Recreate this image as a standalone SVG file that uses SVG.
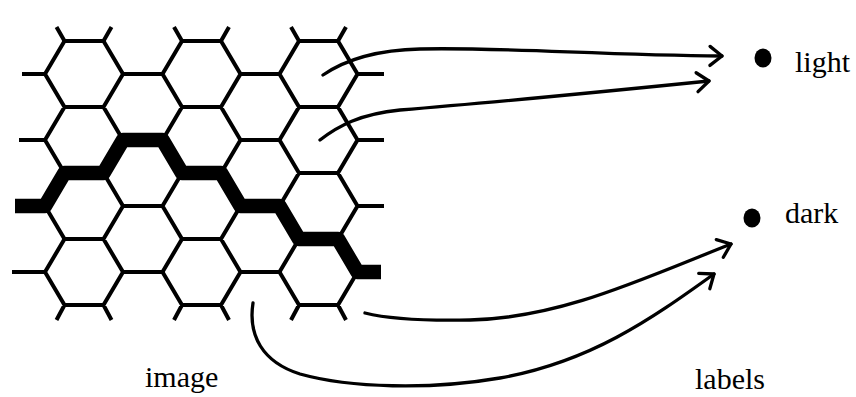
<svg xmlns="http://www.w3.org/2000/svg" width="856" height="397" viewBox="0 0 856 397">
  <style>
    .lat { fill: none; stroke: #000; stroke-width: 4; stroke-linejoin: round; }
    .thick { fill: none; stroke: #000; stroke-width: 14.5; stroke-linejoin: round; stroke-linecap: butt; }
    .conn { fill: none; stroke: #000; stroke-width: 3.3; stroke-linecap: round; }
    .lbl { font-family: "Liberation Serif", "Times New Roman", serif; font-size: 30px; fill: #000; }
  </style>
  <defs>
    <marker id="arrow" viewBox="-15 -12 18 24" markerWidth="18" markerHeight="24" refX="0" refY="0" orient="auto" markerUnits="userSpaceOnUse">
      <path d="M-12,-9.5 L0,0 L-12,9.5" fill="none" stroke="#000" stroke-width="3.3" stroke-linecap="round" stroke-linejoin="round"/>
    </marker>
  </defs>
  <rect width="856" height="397" fill="#fff"/>

  <g id="image">
    <path class="lat" d="
      M64.5,41 L103.5,41 L123,74 L103.5,107 L64.5,107 L45,74Z
      M64.5,107 L103.5,107 L123,140 L103.5,173 L64.5,173 L45,140Z
      M64.5,173 L103.5,173 L123,206 L103.5,239 L64.5,239 L45,206Z
      M64.5,239 L103.5,239 L123,272 L103.5,305 L64.5,305 L45,272Z
      M182,41 L221,41 L240.5,74 L221,107 L182,107 L162.5,74Z
      M182,107 L221,107 L240.5,140 L221,173 L182,173 L162.5,140Z
      M182,173 L221,173 L240.5,206 L221,239 L182,239 L162.5,206Z
      M182,239 L221,239 L240.5,272 L221,305 L182,305 L162.5,272Z
      M299,41 L338,41 L357.5,74 L338,107 L299,107 L279.5,74Z
      M299,107 L338,107 L357.5,140 L338,173 L299,173 L279.5,140Z
      M299,173 L338,173 L357.5,206 L338,239 L299,239 L279.5,206Z
      M299,239 L338,239 L357.5,272 L338,305 L299,305 L279.5,272Z
      M123,74 H162.5 M123,140 H162.5 M123,206 H162.5 M123,272 H162.5
      M240.5,74 H279.5 M240.5,140 H279.5 M240.5,206 H279.5 M240.5,272 H279.5
      M64.5,41 l-8,-14 M103.5,41 l8,-14 M182,41 l-8,-14 M221,41 l8,-14 M299,41 l-8,-14 M338,41 l8,-14
      M64.5,305 l-8,15 M103.5,305 l8,15 M182,305 l-8,15 M221,305 l8,15 M299,305 l-8,15 M338,305 l8,15
      M45,74 H22 M45,140 H19 M45,272 H12
      M357.5,74 H384 M357.5,140 H384 M357.5,206 H384"/>
    <path class="thick" d="M15,206 H45 L64.5,173 H103.5 L123,140 H162.5 L182,173 H221 L240.5,206 H279.5 L299,239 H338 L357.5,272 H381"/>
  </g>

  <g id="connectors">
    <path class="conn" marker-end="url(#arrow)" d="M323,75 C345,60 375,50 420,49 C500,47 600,55 722,56"/>
    <path class="conn" marker-end="url(#arrow)" d="M320,140 C338,126 360,114 400,110 C500,102 620,90 709,81"/>
    <path class="conn" marker-end="url(#arrow)" d="M365,313 C385,318 420,321 470,320 C560,318 640,280 731,244"/>
    <path class="conn" marker-end="url(#arrow)" d="M253,303 C248,335 262,362 300,374 C350,388 430,390 500,378 C590,362 650,320 714,274"/>
  </g>

  <g id="label-light">
    <ellipse cx="763" cy="58" rx="8.5" ry="9.5"/>
    <text class="lbl" x="795" y="72">light</text>
  </g>
  <g id="label-dark">
    <ellipse cx="752" cy="218" rx="8.5" ry="9.5"/>
    <text class="lbl" x="785" y="223">dark</text>
  </g>
  <g id="caption-image">
    <text class="lbl" x="145" y="387">image</text>
  </g>
  <g id="caption-labels">
    <text class="lbl" x="695" y="389">labels</text>
  </g>
</svg>
